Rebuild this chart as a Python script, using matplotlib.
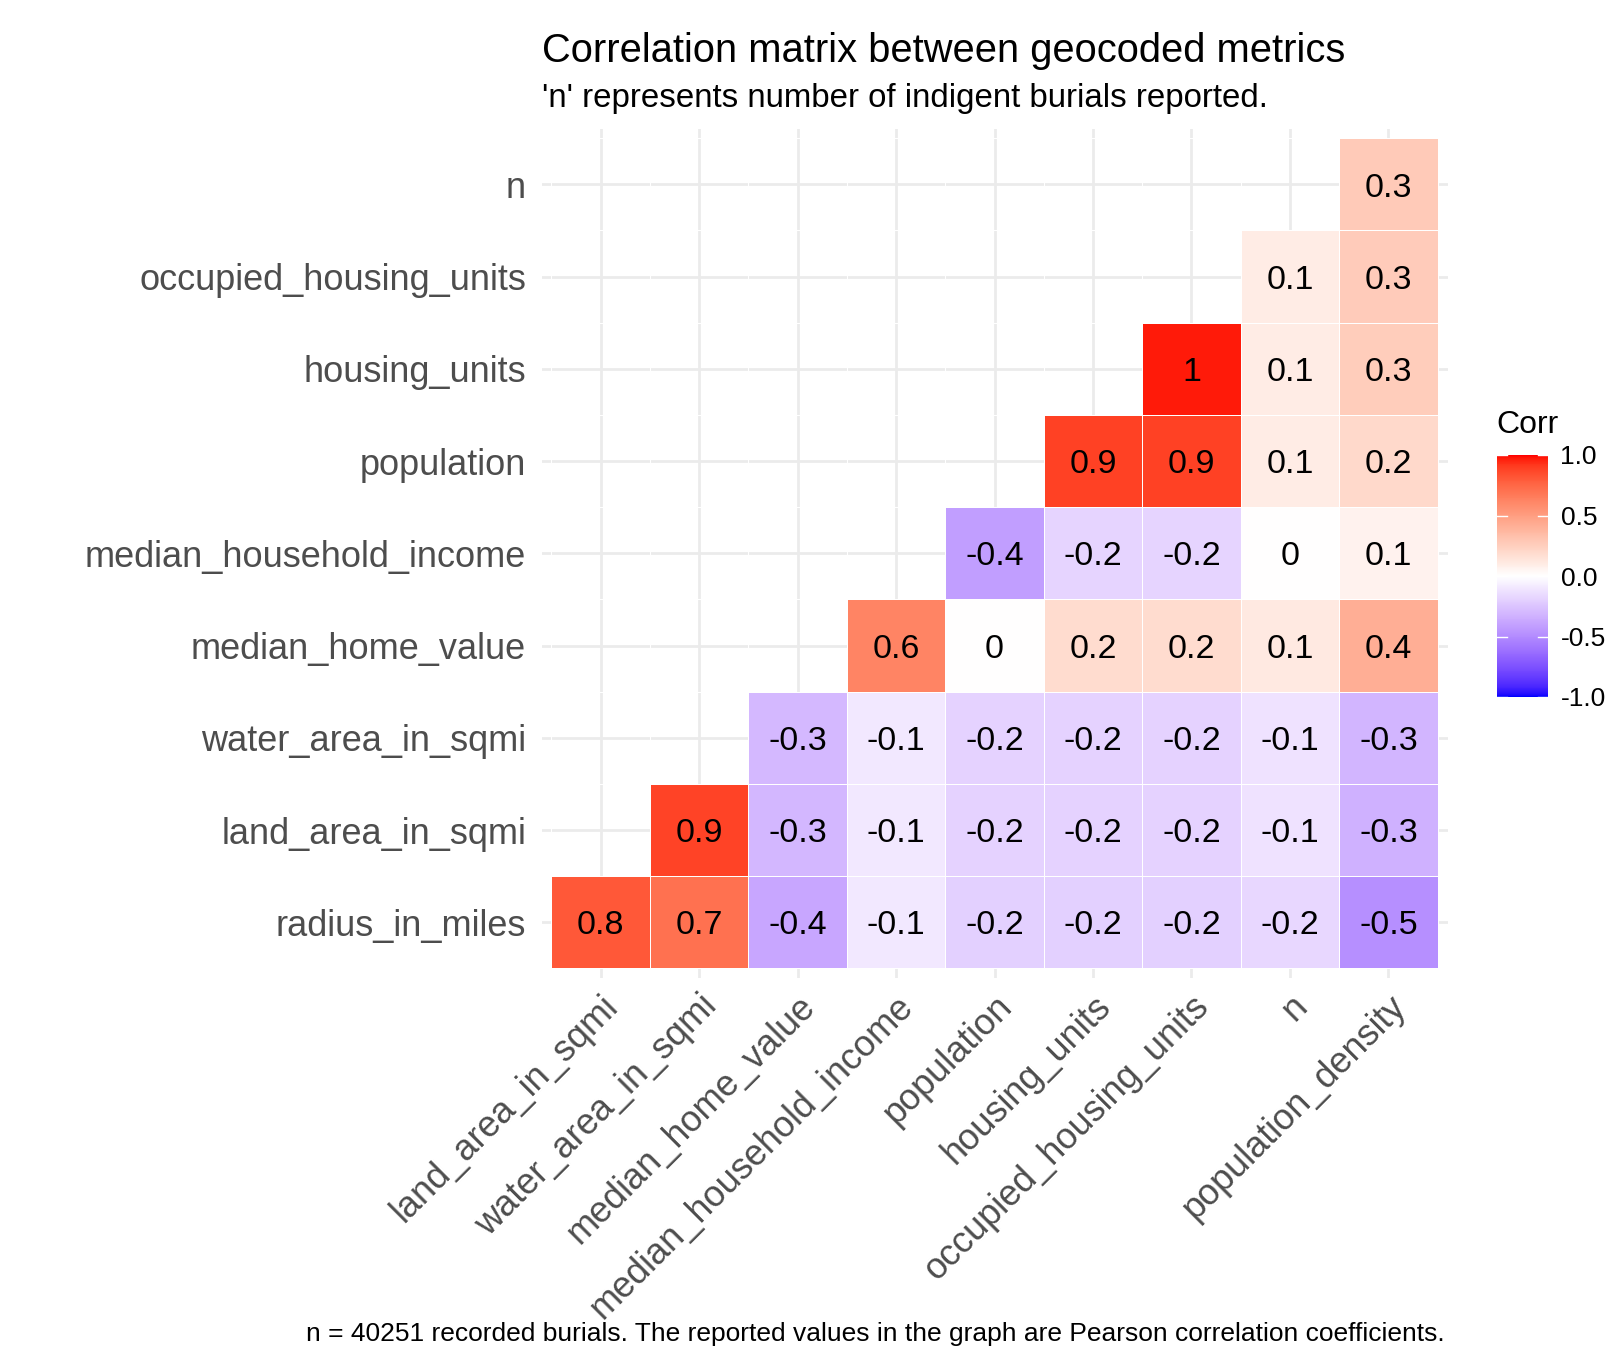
import numpy as np
import matplotlib

matplotlib.use("Agg")
import matplotlib.pyplot as plt
from matplotlib.colors import ListedColormap, Normalize
from matplotlib.cm import ScalarMappable

plt.rcParams["font.family"] = ["Liberation Sans", "DejaVu Sans"]

nan = np.nan

x_labels = ["land_area_in_sqmi", "water_area_in_sqmi", "median_home_value",
            "median_household_income", "population", "housing_units",
            "occupied_housing_units", "n", "population_density"]
y_labels = ["radius_in_miles", "land_area_in_sqmi", "water_area_in_sqmi",
            "median_home_value", "median_household_income", "population",
            "housing_units", "occupied_housing_units", "n"]

# rows bottom -> top, one list per y label (nan = hidden upper triangle)
corr_radius = [0.81, 0.71, -0.38, -0.10, -0.20, -0.20, -0.20, -0.17, -0.48]
corr_land = [nan, 0.88, -0.31, -0.10, -0.19, -0.19, -0.19, -0.12, -0.33]
corr_water = [nan, nan, -0.30, -0.10, -0.19, -0.19, -0.19, -0.12, -0.32]
corr_home_value = [nan, nan, nan, 0.62, 0.0, 0.18, 0.18, 0.11, 0.42]
corr_income = [nan, nan, nan, nan, -0.42, -0.18, -0.18, 0.0, 0.07]
corr_population = [nan, nan, nan, nan, nan, 0.89, 0.89, 0.10, 0.20]
corr_housing = [nan, nan, nan, nan, nan, nan, 0.97, 0.10, 0.26]
corr_occupied = [nan, nan, nan, nan, nan, nan, nan, 0.10, 0.27]
corr_n = [nan, nan, nan, nan, nan, nan, nan, nan, 0.28]

legend_ticks = [-1.0, -0.5, 0.0, 0.5, 1.0]

title = "Correlation matrix between geocoded metrics"
subtitle = "'n' represents number of indigent burials reported."
caption = ("n = 40251 recorded burials. The reported values in the graph "
           "are Pearson correlation coefficients.")


# ggplot-style blue-white-red gradient, interpolated in CIELAB
_M = np.array([[0.4124564, 0.3575761, 0.1804375],
               [0.2126729, 0.7151522, 0.0721750],
               [0.0193339, 0.1191920, 0.9503041]])
_WHITE = np.array([0.95047, 1.0, 1.08883])


def to_lab(rgb):
    c = np.asarray(rgb, dtype=float)
    lin = np.where(c <= 0.04045, c / 12.92, ((c + 0.055) / 1.055) ** 2.4)
    t = (_M @ lin) / _WHITE
    d = 6 / 29
    f = np.where(t > d ** 3, np.cbrt(t), t / (3 * d * d) + 4 / 29)
    return np.array([116 * f[1] - 16, 500 * (f[0] - f[1]), 200 * (f[1] - f[2])])


def from_lab(lab):
    L, a, b = lab
    fy = (L + 16) / 116
    f = np.array([fy + a / 500, fy, fy - b / 200])
    d = 6 / 29
    t = np.where(f > d, f ** 3, 3 * d * d * (f - 4 / 29))
    lin = np.linalg.solve(_M, t * _WHITE)
    lin = np.clip(lin, 0, 1)
    c = np.where(lin <= 0.0031308, 12.92 * lin, 1.055 * lin ** (1 / 2.4) - 0.055)
    return np.clip(c, 0, 1)


def lab_gradient(low, mid, high, n=256):
    lo, mi, hi = to_lab(low), to_lab(mid), to_lab(high)
    cols = []
    for s in np.linspace(0, 1, n):
        if s < 0.5:
            lab = lo + (mi - lo) * (s / 0.5)
        else:
            lab = mi + (hi - mi) * ((s - 0.5) / 0.5)
        cols.append(from_lab(lab))
    return ListedColormap(cols)


cmap = lab_gradient((0, 0, 1), (1, 1, 1), (1, 0, 0))
norm = Normalize(-1, 1)

corr = np.ma.masked_invalid(np.array([corr_radius, corr_land, corr_water,
                                      corr_home_value, corr_income, corr_population,
                                      corr_housing, corr_occupied, corr_n]))

W, H = 1605, 1347
fig = plt.figure(figsize=(W / 100, H / 100), dpi=100)
ax = fig.add_axes([541.5 / W, 1 - 977.6 / H, 906 / W, 848.6 / H])

nx, ny = len(x_labels), len(y_labels)
ax.pcolormesh(np.arange(nx + 1) - 0.5, np.arange(ny + 1) - 0.5, corr,
              cmap=cmap, norm=norm, edgecolors="white", linewidth=0.6)

for i in range(ny):
    for j in range(nx):
        v = corr[i, j]
        if v is np.ma.masked:
            continue
        ax.text(j, i - 0.04, f"{round(float(v), 1):g}", ha="center", va="center",
                fontsize=24.5, color="black")

ax.set_xlim(-0.6, nx - 0.4)
ax.set_ylim(-0.6, ny - 0.4)
ax.set_xticks(range(nx))
ax.set_yticks(range(ny))
ax.set_xticklabels(x_labels, rotation=45, ha="right", va="top",
                   rotation_mode="anchor", fontsize=26, color="#4D4D4D")
ax.set_yticklabels(y_labels, fontsize=26, color="#4D4D4D")
ax.tick_params(axis="both", length=0)
ax.tick_params(axis="y", pad=11)
ax.tick_params(axis="x", pad=8)
ax.grid(True, color="#EBEBEB", linewidth=2)
ax.set_axisbelow(True)
for s in ax.spines.values():
    s.set_visible(False)

fig.text(541.5 / W, 1 - 51 / H, title, ha="left", va="center", fontsize=28.7)
fig.text(541.5 / W, 1 - 99 / H, subtitle, ha="left", va="center", fontsize=23.8)
fig.text(1445 / W, 1 - 1334 / H, caption, ha="right", va="center", fontsize=19)

# colour bar legend
cax = fig.add_axes([1497 / W, 1 - 697 / H, 51 / W, 242 / H])
cb = fig.colorbar(ScalarMappable(norm=norm, cmap=cmap), cax=cax, ticks=legend_ticks)
cb.outline.set_visible(False)
cb.ax.set_yticklabels([f"{t:.1f}" for t in legend_ticks])
cb.ax.tick_params(length=0, pad=9, labelsize=19, colors="black")
for t in legend_ticks:
    cax.plot([0, 0.2], [t, t], color="white", lw=1, transform=cax.get_yaxis_transform())
    cax.plot([0.8, 1], [t, t], color="white", lw=1, transform=cax.get_yaxis_transform())
fig.text(1496 / W, 1 - 425 / H, "Corr", ha="left", va="center", fontsize=23)

fig.savefig("out.png", dpi=100)
